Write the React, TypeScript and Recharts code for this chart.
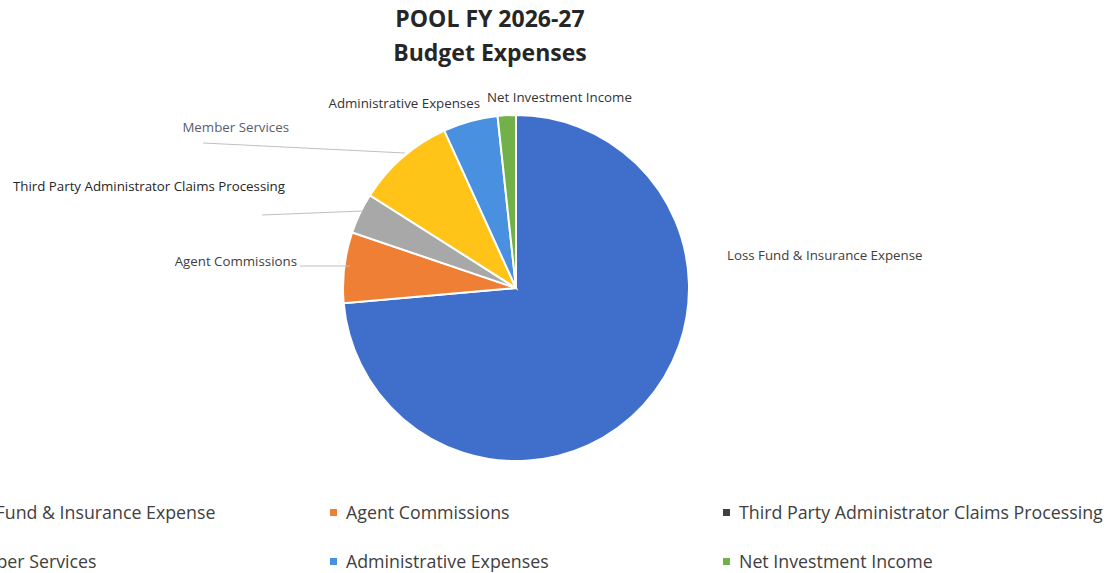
import React from "react";
import { PieChart, Pie, Cell, Legend } from "recharts";

const categories = [
  "Loss Fund & Insurance Expense",
  "Agent Commissions",
  "Third Party Administrator Claims Processing",
  "Member Services",
  "Administrative Expenses",
  "Net Investment Income",
];
const values = [73.6, 6.6, 3.8, 9.2, 5.1, 1.7];
const colors = ["#3F6FCB", "#F07F36", "#A8A8A8", "#FFC417", "#4A90E0", "#72B04A"];

const titleLines = ["POOL FY 2026-27", "Budget Expenses"];

// label layout relative to pie center
const labelLayout = [
  { dx: 211, dy: -33, anchor: "start", color: "#404040" },
  { dx: -219, dy: -27, anchor: "end", color: "#404040" },
  { dx: -231, dy: -102, anchor: "end", color: "#262626" },
  { dx: -227, dy: -161, anchor: "end", color: "#585d6e" },
  { dx: -36, dy: -185, anchor: "end", color: "#333333" },
  { dx: -29, dy: -191, anchor: "start", color: "#333333" },
];
const leaderLines: (number[] | null)[] = [
  null,
  [-216, -22, -166, -22],
  [-254, -73, -153, -77],
  [-313, -145, -111, -135],
  null,
  null,
];

const legendCols = [-62, 330, 723];
const legendRows = [512, 561];

const data = categories.map((name, i) => ({ name, value: values[i] }));

const FONT = "'Open Sans', 'Noto Sans', sans-serif";

const renderLabel = (props: any) => {
  const { cx, cy, index } = props;
  const l = labelLayout[index];
  const line = leaderLines[index];
  return (
    <g key={`lbl-${index}`}>
      {line && (
        <line
          x1={cx + line[0]}
          y1={cy + line[1]}
          x2={cx + line[2]}
          y2={cy + line[3]}
          stroke="#BFBFBF"
          strokeWidth={1}
        />
      )}
      <text
        x={cx + l.dx}
        y={cy + l.dy}
        textAnchor={l.anchor}
        dominantBaseline="central"
        fill={l.color}
        fontSize={13.3}
        fontFamily={FONT}
      >
        {categories[index]}
      </text>
    </g>
  );
};

const LegendContent = () => (
  <div style={{ position: "relative", width: 1110, height: 80 }}>
    {categories.map((name, i) => {
      const col = i % 3;
      const row = Math.floor(i / 3);
      return (
        <div
          key={name}
          style={{
            position: "absolute",
            left: legendCols[col],
            top: legendRows[row] - 495 - 12,
            height: 24,
            display: "flex",
            alignItems: "center",
            whiteSpace: "nowrap",
            fontFamily: FONT,
            fontSize: 17.8,
            color: "#404040",
          }}
        >
          <span
            style={{
              display: "inline-block",
              width: 7,
              height: 7,
              background: i === 2 ? "#404040" : colors[i],
              marginRight: 9,
            }}
          />
          {name}
        </div>
      );
    })}
  </div>
);

export default function App() {
  return (
    <div style={{ position: "absolute", left: 0, top: 0, width: 1110, height: 573, overflow: "hidden", background: "#fff" }}>
      <div
        style={{
          position: "absolute",
          left: 340,
          width: 300,
          top: 1,
          textAlign: "center",
          fontFamily: FONT,
          fontWeight: 700,
          fontSize: 23,
          lineHeight: "34px",
          color: "#262626",
        }}
      >
        {titleLines.map((t) => (
          <div key={t}>{t}</div>
        ))}
      </div>
      <PieChart width={1110} height={573} margin={{ top: 0, left: 0, right: 0, bottom: 0 }}>
        <Pie
          data={data}
          dataKey="value"
          nameKey="name"
          cx={516}
          cy={288}
          outerRadius={173}
          startAngle={90}
          endAngle={-270}
          stroke="#ffffff"
          strokeWidth={2}
          label={renderLabel}
          labelLine={false}
          isAnimationActive={false}
        >
          {data.map((d, i) => (
            <Cell key={d.name} fill={colors[i]} />
          ))}
        </Pie>
        <Legend
          content={<LegendContent />}
          wrapperStyle={{ left: 0, top: 495, width: 1110, bottom: "auto" }}
        />
      </PieChart>
    </div>
  );
}
